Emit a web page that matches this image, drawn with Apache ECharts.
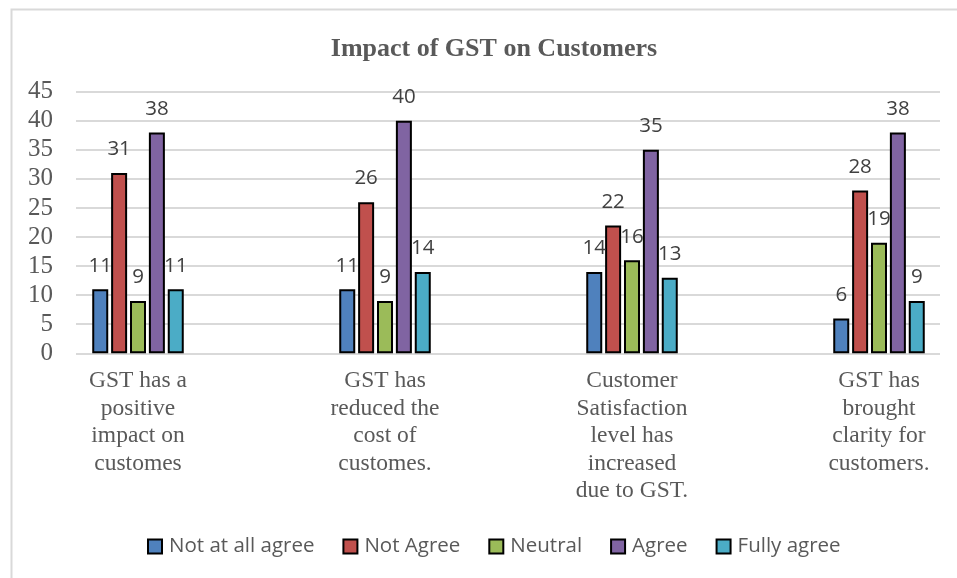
<!DOCTYPE html>
<html>
<head>
<meta charset="utf-8">
<script src="https://cdn.jsdelivr.net/npm/echarts@6/dist/echarts.min.js"></script>
<style>
html,body{margin:0;padding:0;background:#fff;}
#chart{width:957px;height:578px;}
</style>
</head>
<body>
<div id="chart"></div>
<script>
const categories = [
  "GST has a\npositive\nimpact on\ncustomes",
  "GST has\nreduced the\ncost of\ncustomes.",
  "Customer\nSatisfaction\nlevel has\nincreased\ndue to GST.",
  "GST has\nbrought\nclarity for\ncustomers."
];
const seriesNames = ["Not at all agree", "Not Agree", "Neutral", "Agree", "Fully agree"];
const notAtAllAgree = [11, 11, 14, 6];
const notAgree = [31, 26, 22, 28];
const neutral = [9, 9, 16, 19];
const agree = [38, 40, 35, 38];
const fullyAgree = [11, 14, 13, 9];
const yTicks = [0, 5, 10, 15, 20, 25, 30, 35, 40, 45];
const seriesValues = [notAtAllAgree, notAgree, neutral, agree, fullyAgree];
const colors = ["#4F81BD", "#C0504D", "#9BBB59", "#8064A2", "#4BACC6"];

const chart = echarts.init(document.getElementById('chart'));
const plotTop = 91.7, plotH = 261.6;
const option = {
  animation: false,
  backgroundColor: '#fff',
  graphic: [{
    type: 'rect', left: 9, top: 7, shape: { width: 1100, height: 700 },
    style: { fill: 'none', stroke: '#d9d9d9', lineWidth: 2 }, silent: true, z: -10
  }],
  title: {
    text: 'Impact of GST on Customers',
    left: 489, top: 31, textAlign: 'center',
    textStyle: { fontFamily: "'Liberation Serif', 'Times New Roman', serif", fontWeight: 'bold', fontSize: 26, color: '#595959' }
  },
  legend: {
    data: seriesNames,
    left: 142, top: 531,
    itemWidth: 14, itemHeight: 14, itemGap: 28,
    icon: 'rect',
    textStyle: { fontFamily: "'Open Sans', sans-serif", fontSize: 20.5, color: '#595959', padding: [0, 0, 0, 2] }
  },
  grid: [
    { left: 76, top: plotTop, width: 864, height: plotH, outerBoundsMode: 'none', containLabel: false },
    { left: 14.5, top: plotTop, width: 988, height: plotH, outerBoundsMode: 'none', containLabel: false }
  ],
  xAxis: [
    { type: 'category', gridIndex: 0, data: categories, show: false },
    {
      type: 'category', gridIndex: 1, data: categories,
      axisLine: { show: false }, axisTick: { show: false },
      axisLabel: {
        margin: 14, interval: 0,
        fontFamily: "'Liberation Serif', 'Times New Roman', serif",
        fontSize: 23.5, lineHeight: 27.5, color: '#595959'
      }
    }
  ],
  yAxis: [
    {
      type: 'value', gridIndex: 0, min: 0, max: 45, interval: 5,
      axisLine: { show: false }, axisTick: { show: false },
      splitLine: { lineStyle: { color: '#d9d9d9', width: 2 } },
      axisLabel: {
        margin: 23, fontFamily: "'Liberation Serif', 'Times New Roman', serif",
        fontSize: 25, color: '#595959',
        formatter: v => yTicks.includes(v) ? String(v) : ''
      }
    },
    { type: 'value', gridIndex: 1, min: 0, max: 45, interval: 5, show: false }
  ],
  series: seriesNames.map((name, i) => ({
    name, type: 'bar', xAxisIndex: 1, yAxisIndex: 1,
    data: seriesValues[i],
    barWidth: 16, barGap: '18%',
    itemStyle: { color: colors[i], borderColor: '#000', borderWidth: 2 },
    label: {
      show: true, position: 'top', distance: 13,
      fontFamily: "'Open Sans', sans-serif", fontSize: 20.5, color: '#404040'
    }
  }))
};
chart.setOption(option);
</script>
</body>
</html>
